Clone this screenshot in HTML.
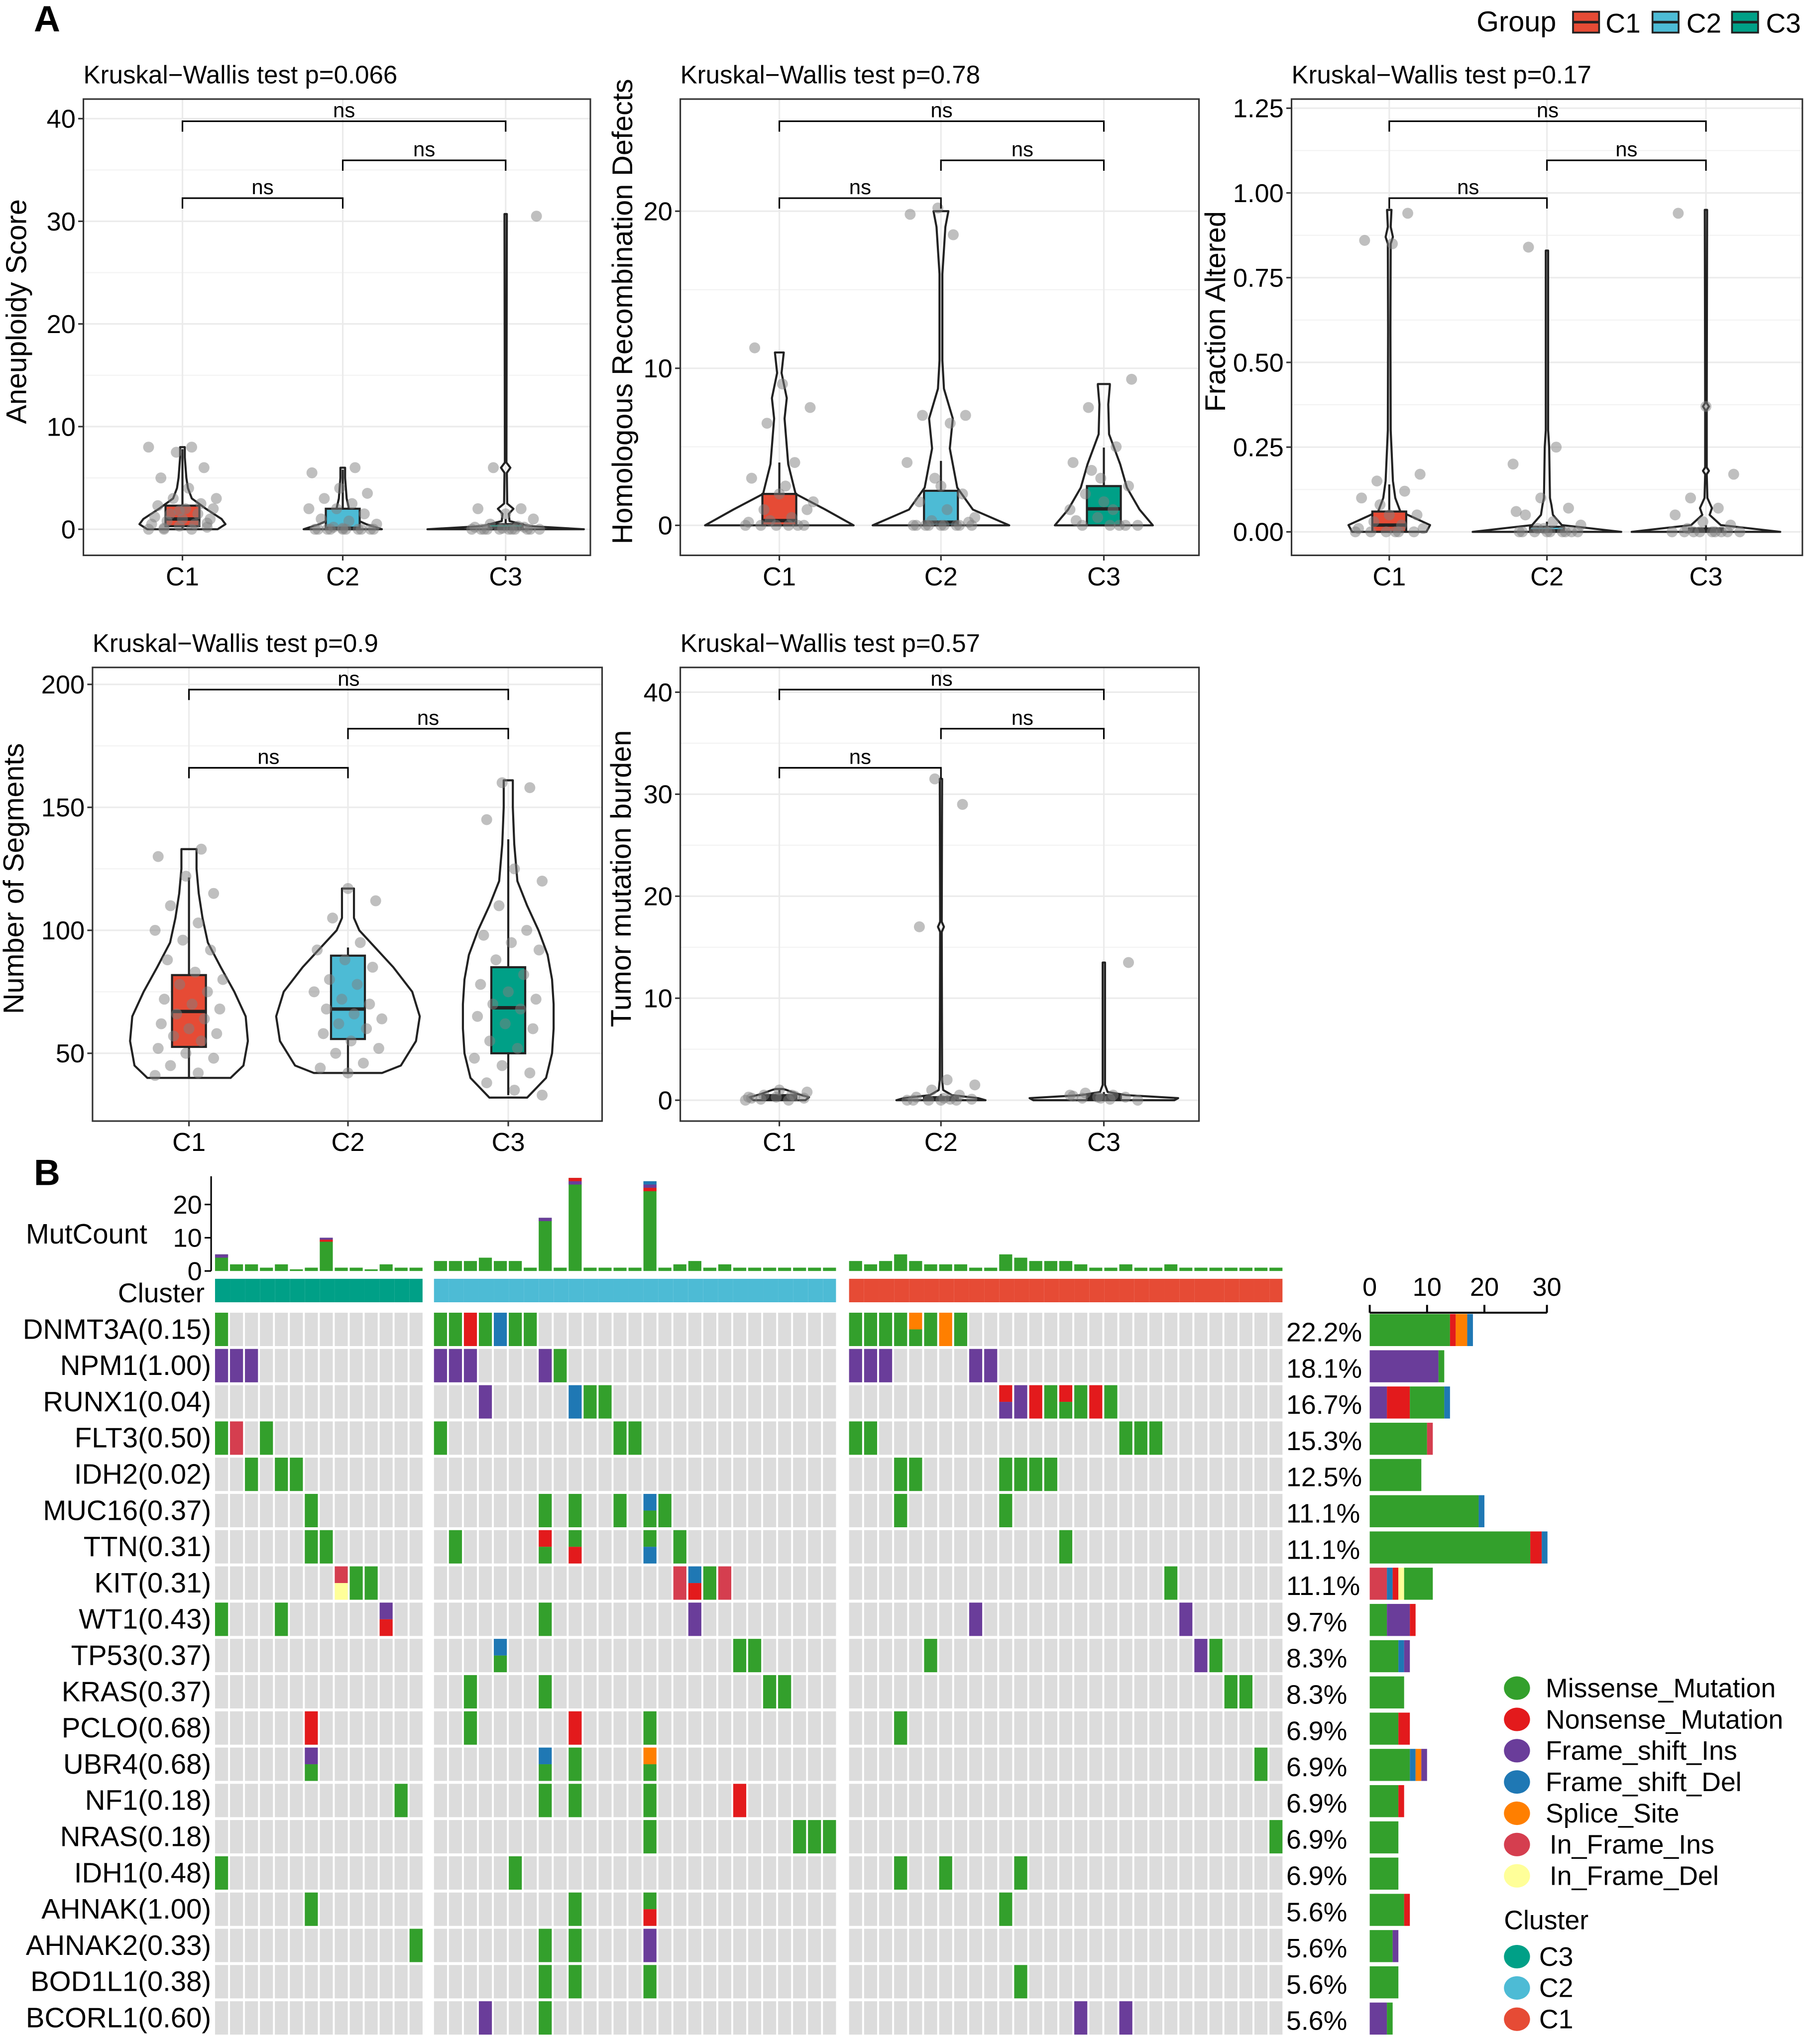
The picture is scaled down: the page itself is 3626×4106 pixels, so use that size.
<!DOCTYPE html>
<html><head><meta charset="utf-8">
<style>
html,body{margin:0;padding:0;background:#fff;}
svg{display:block;font-family:"Liberation Sans",Arial,sans-serif;}
</style></head>
<body>
<svg id="fig" xmlns="http://www.w3.org/2000/svg" width="3626" height="4106" viewBox="0 0 1385 1568" preserveAspectRatio="none">
<rect x="0" y="0" width="1385" height="1568" fill="#fff"/>
</svg>
<script>
// ---------- Panel A data ----------
const groups = ['C1','C2','C3'];
const groupColors = ['#e64b35','#4dbbd5','#00a087'];
const titles = ['Kruskal\u2212Wallis test p=0.066','Kruskal\u2212Wallis test p=0.78','Kruskal\u2212Wallis test p=0.17','Kruskal\u2212Wallis test p=0.9','Kruskal\u2212Wallis test p=0.57'];
const yLabels = ['Aneuploidy Score','Homologous Recombination Defects','Fraction Altered','Number of Segments','Tumor mutation burden'];
const tick1 = [0,10,20,30,40];
const tick2 = [0,10,20];
const tick3 = [0,0.25,0.5,0.75,1,1.25];
const tick3Labels = ['0.00','0.25','0.50','0.75','1.00','1.25'];
const tick4 = [50,100,150,200];
const tick5 = [0,10,20,30,40];
const vio1 = [
 [[0,0.45],[0.5,0.55],[1,0.5],[2,0.3],[3,0.12],[4,0.07],[5,0.05],[6,0.04],[7,0.03],[8,0.03]],
 [[0,0.5],[0.5,0.3],[1,0.15],[2,0.08],[3,0.05],[4,0.04],[5,0.03],[6,0.03]],
 [[0,1],[0.3,0.3],[0.8,0.05],[1.5,0.04],[2,0.1],[2.5,0.02],[5.5,0.015],[6,0.06],[6.5,0.01],[30.7,0.015]]];
const vio2 = [
 [[0,1],[1,0.62],[2,0.22],[3.9,0.12],[6.8,0.07],[8.1,0.1],[9.7,0.03],[11,0.06]],
 [[0,0.92],[1,0.43],[2.4,0.22],[4.9,0.12],[6.8,0.16],[8.7,0.04],[10.5,0.02],[16,0.02],[19,0.06],[20,0.1]],
 [[0,0.66],[1,0.48],[2.4,0.31],[3.9,0.22],[5.8,0.07],[7.7,0.06],[8.9,0.08],[9,0.08]]];
const vio3 = [
 [[0,0.5],[0.02,0.55],[0.04,0.35],[0.06,0.15],[0.1,0.08],[0.15,0.05],[0.3,0.02],[0.6,0.015],[0.85,0.02],[0.87,0.05],[0.9,0.02],[0.95,0.03]],
 [[0,1],[0.01,0.6],[0.02,0.2],[0.05,0.08],[0.08,0.06],[0.1,0.04],[0.25,0.03],[0.3,0.015],[0.83,0.015]],
 [[0,1],[0.01,0.6],[0.02,0.2],[0.05,0.05],[0.07,0.08],[0.1,0.02],[0.17,0.01],[0.18,0.04],[0.19,0.01],[0.36,0.01],[0.37,0.04],[0.38,0.01],[0.95,0.015]]];
const vio4 = [
 [[40,0.55],[45,0.72],[55,0.78],[65,0.75],[75,0.6],[85,0.42],[95,0.25],[105,0.18],[115,0.13],[125,0.1],[133,0.1]],
 [[42,0.45],[45,0.7],[55,0.9],[65,0.95],[75,0.85],[85,0.6],[95,0.3],[100,0.15],[105,0.08],[112,0.08],[117,0.08]],
 [[32,0.25],[40,0.5],[50,0.58],[60,0.6],[70,0.6],[80,0.58],[90,0.52],[100,0.4],[110,0.25],[120,0.12],[135,0.08],[150,0.06],[161,0.06]]];
const vio5 = [
 [[0,0.35],[0.3,0.4],[0.6,0.25],[1,0.1],[1.1,0.05]],
 [[0,0.6],[0.2,0.5],[0.5,0.15],[1,0.03],[2,0.015],[16.5,0.01],[17,0.04],[17.5,0.01],[31.5,0.015]],
 [[0,0.95],[0.2,1],[0.5,0.3],[0.8,0.05],[1.5,0.015],[13.5,0.015]]];
const box1 = [[0,0.3,1,2.3,7.8],[0,0,0.1,2,5.8],[0,0,0.1,0.5,1]];
const box2 = [[0,0,0.3,2,4],[0,0,0.2,2.2,4.1],[0,0,1.05,2.5,4.95]];
const box3 = [[0,0,0.02,0.06,0.14],[0,0,0.003,0.015,0.03],[0,0,0.003,0.01,0.02]];
const box4 = [[40,52.6,67,81.8,121.5],[42,55.8,68,89.7,93],[33,50,68.5,85,137]];
const box5 = [[0,0.1,0.3,0.5,1],[0,0,0.1,0.3,0.6],[0,0.2,0.3,0.5,0.8]];
const pts1 = [[0,0,0,0.2,0.3,0.5,0.5,0.8,1,1,1.2,1.5,1.5,2,2,2.3,2.5,3,3,4,5,6,7.5,8,8,0.1,0.6,1.8],
 [0,0,0,0,0,0,0,0,0.2,0.5,0.8,1,1.5,2,2,2.5,3,3.5,4,5.5,6,0,0,0.1],
 [0,0,0,0,0,0,0,0,0,0.1,0.2,0.3,0.5,1,1.5,2,2,6,30.5,0,0,0.2]];
const pts2 = [[0,0,0,0,0,0.2,0.5,1,1,2,3,4,6.5,7.5,9,11.3,0,0.3,1.5,2.5],
 [0,0,0,0,0,0,0,0,0.3,0.5,1,1.5,2,3,4,6.5,7,7,20.2,19.8,18.5,0,0.2,2.5],
 [0,0,0,0,0.5,1,1,2,2.5,3,4,5,7.5,9.3,1.5,0.3,0,3.5]];
const pts3 = [[0,0,0,0,0,0.01,0.02,0.03,0.05,0.05,0.1,0.12,0.15,0.17,0.85,0.86,0.94,0.08,0.01,0],
 [0,0,0,0,0,0,0,0,0.01,0.02,0.03,0.05,0.07,0.1,0.2,0.25,0.84,0,0.01,0.06],
 [0,0,0,0,0,0,0,0.01,0.02,0.03,0.05,0.07,0.1,0.17,0.37,0.94,0,0]];
const pts4 = [[41,42,45,48,50,52,55,57,58,60,62,64,66,68,70,72,75,78,80,83,88,92,96,100,103,110,115,122,130,133],
 [42,44,46,50,52,55,58,60,62,64,66,68,70,72,75,78,80,85,88,92,95,105,112,117],
 [33,35,38,42,45,48,52,55,60,62,65,68,70,72,75,78,82,88,92,95,98,100,110,120,125,145,158,160]];
const pts5 = [[0,0,0.1,0.2,0.3,0.3,0.5,0.5,0.8,1,0.2,0.4],
 [0,0,0,0,0.1,0.2,0.3,0.5,1,1.5,2,17,29,31.5,0,0.1],
 [0,0.1,0.2,0.3,0.3,0.5,0.5,0.7,13.5,0.2,0.4]];

// ---------- Panel B data ----------
const genes = ['DNMT3A(0.15)','NPM1(1.00)','RUNX1(0.04)','FLT3(0.50)','IDH2(0.02)','MUC16(0.37)','TTN(0.31)','KIT(0.31)','WT1(0.43)','TP53(0.37)','KRAS(0.37)','PCLO(0.68)','UBR4(0.68)','NF1(0.18)','NRAS(0.18)','IDH1(0.48)','AHNAK(1.00)','AHNAK2(0.33)','BOD1L1(0.38)','BCORL1(0.60)'];
const pctLabels = ['22.2%','18.1%','16.7%','15.3%','12.5%','11.1%','11.1%','11.1%','9.7%','8.3%','8.3%','6.9%','6.9%','6.9%','6.9%','6.9%','5.6%','5.6%','5.6%','5.6%'];
const clusterSizes = [14,27,29];
const clusterNames = ['C3','C2','C1'];
const mutTypes = ['M','N','I','D','S','F','L'];
const mutNames = ['Missense_Mutation','Nonsense_Mutation','Frame_shift_Ins','Frame_shift_Del','Splice_Site','In_Frame_Ins','In_Frame_Del'];
const mutColors = {M:'#33a02c',N:'#e31a1c',I:'#6a3d9a',D:'#1f78b4',S:'#ff7f00',F:'#d53e4f',L:'#ffff99'};
const onco = [
 [[0,'M'],[14,'M'],[15,'M'],[16,'N'],[17,'M'],[18,'D'],[19,'M'],[20,'M'],[41,'M'],[42,'M'],[43,'M'],[44,'M'],[45,'S','M'],[46,'M'],[47,'S'],[48,'M']],
 [[0,'I'],[1,'I'],[2,'I'],[14,'I'],[15,'I'],[16,'I'],[21,'I'],[22,'M'],[41,'I'],[42,'I'],[43,'I'],[49,'I'],[50,'I']],
 [[17,'I'],[23,'D'],[24,'M'],[25,'M'],[51,'N','I'],[52,'I'],[53,'N'],[54,'M'],[55,'N','M'],[56,'M'],[57,'N'],[58,'M']],
 [[0,'M'],[1,'F'],[3,'M'],[14,'M'],[26,'M'],[27,'M'],[41,'M'],[42,'M'],[59,'M'],[60,'M'],[61,'M']],
 [[2,'M'],[4,'M'],[5,'M'],[44,'M'],[45,'M'],[51,'M'],[52,'M'],[53,'M'],[54,'M']],
 [[6,'M'],[21,'M'],[23,'M'],[26,'M'],[28,'D','M'],[29,'M'],[44,'M'],[51,'M']],
 [[6,'M'],[7,'M'],[15,'M'],[21,'N','M'],[23,'M','N'],[28,'M','D'],[30,'M'],[55,'M']],
 [[8,'F','L'],[9,'M'],[10,'M'],[30,'F'],[31,'D','N'],[32,'M'],[33,'F'],[62,'M']],
 [[0,'M'],[4,'M'],[11,'I','N'],[21,'M'],[31,'I'],[49,'I'],[63,'I']],
 [[18,'D','M'],[34,'M'],[35,'M'],[46,'M'],[64,'I'],[65,'M']],
 [[16,'M'],[21,'M'],[36,'M'],[37,'M'],[66,'M'],[67,'M']],
 [[6,'N'],[16,'M'],[23,'N'],[28,'M'],[44,'M']],
 [[6,'I','M'],[21,'D','M'],[23,'M'],[28,'S','M'],[68,'M']],
 [[12,'M'],[21,'M'],[23,'M'],[28,'M'],[34,'N']],
 [[28,'M'],[38,'M'],[39,'M'],[40,'M'],[69,'M']],
 [[0,'M'],[19,'M'],[44,'M'],[47,'M'],[52,'M']],
 [[6,'M'],[23,'M'],[28,'M','N'],[51,'M']],
 [[13,'M'],[21,'M'],[23,'M'],[28,'I']],
 [[21,'M'],[23,'M'],[28,'M'],[52,'M']],
 [[17,'I'],[21,'M'],[56,'I'],[59,'I']]];
const geneBars = [
 [['M',14],['N',1],['S',2],['D',1]], [['I',12],['M',1]], [['I',3],['N',4],['M',6],['D',1]],
 [['M',10],['F',1]], [['M',9]], [['M',19],['D',1]], [['M',28],['N',2],['D',1]],
 [['F',3],['D',1],['N',1],['L',1],['M',5]], [['M',3],['I',4],['N',1]], [['M',5],['D',1],['I',1]],
 [['M',6]], [['M',5],['N',2]], [['M',7],['D',1],['S',1],['I',1]], [['M',5],['N',1]],
 [['M',5]], [['M',5]], [['M',6],['N',1]], [['M',4],['I',1]], [['M',5]], [['I',3],['M',1]]];
const barTicks = [0,10,20,30];
const mutCount = [5,2,2,1,2,0.5,1,10,1,1,0.5,2,1,1,
 3,3,3,4,3,3,1,16,1,28,1,1,1,1,27,1,2,3,1,2,1,1,1,1,1,1,1,
 3,2,3,5,3,2,2,2,1,1,5,4,3,3,3,2,1,1,2,1,1,2,1,1,1,1,1,1,1];
const mutTop = [[0,'I',1],[7,'I',0.6],[7,'N',0.6],[21,'I',1],[23,'N',1],[23,'I',1],[28,'D',1],[28,'I',1],[28,'N',1]];
const mutTicks = [0,10,20];

// ---------- helpers ----------
const NS='http://www.w3.org/2000/svg';
const svg=document.getElementById('fig');
function el(tag,attrs,parent){const e=document.createElementNS(NS,tag);for(const k in attrs)e.setAttribute(k,attrs[k]);(parent||svg).appendChild(e);return e;}
function txt(s,attrs,parent){const e=el('text',attrs,parent);e.textContent=s;return e;}

// ---------- Panel A ----------
const panels = [
 {x0:64,x1:453,y0:76,y1:426,cats:[140,263,388],vmin:0,vmax:40,py0:406,py1:91,ticks:tick1,tl:null,vio:vio1,box:box1,pts:pts1,maxHalf:60,lx:20,br:[93,123,152]},
 {x0:522,x1:920,y0:76,y1:426,cats:[598,722,847],vmin:0,vmax:20,py0:403,py1:162,ticks:tick2,tl:null,vio:vio2,box:box2,pts:pts2,maxHalf:57,lx:485,br:[93,123,152]},
 {x0:991,x1:1383,y0:76,y1:426,cats:[1066,1187,1309],vmin:0,vmax:1.25,py0:408,py1:83,ticks:tick3,tl:tick3Labels,vio:vio3,box:box3,pts:pts3,maxHalf:57,lx:940,br:[93,123,152]},
 {x0:71,x1:462,y0:512,y1:860,cats:[145,267,390],vmin:50,vmax:200,py0:808,py1:525,ticks:tick4,tl:null,vio:vio4,box:box4,pts:pts4,maxHalf:58,lx:18,br:[529,559,589]},
 {x0:522,x1:920,y0:512,y1:860,cats:[598,722,847],vmin:0,vmax:40,py0:844,py1:531,ticks:tick5,tl:null,vio:vio5,box:box5,pts:pts5,maxHalf:57,lx:484,br:[529,559,589]}];

panels.forEach((p,pi)=>{
 const g=el('g',{});
 
 
 const Y=v=>p.py0+(v-p.vmin)*(p.py1-p.py0)/(p.vmax-p.vmin);
 for(let i=0;i<p.ticks.length;i++){
  const y=Y(p.ticks[i]);
  el('line',{x1:p.x0,x2:p.x1,y1:y,y2:y,stroke:'#ebebeb','stroke-width':1.2},g);
  if(i<p.ticks.length-1){const ym=Y((p.ticks[i]+p.ticks[i+1])/2);el('line',{x1:p.x0,x2:p.x1,y1:ym,y2:ym,stroke:'#f2f2f2','stroke-width':0.8},g);}
 }
 p.cats.forEach(cx=>el('line',{x1:cx,x2:cx,y1:p.y0,y2:p.y1,stroke:'#ebebeb','stroke-width':1.2},g));
 for(let k=0;k<3;k++){
  const cx=p.cats[k],prof=p.vio[k];
  let d='M'+cx+' '+Y(prof[0][0]);
  prof.forEach(q=>{d+=' L'+(cx+q[1]*p.maxHalf).toFixed(1)+' '+Y(q[0]).toFixed(1);});
  for(let j=prof.length-1;j>=0;j--){d+=' L'+(cx-prof[j][1]*p.maxHalf).toFixed(1)+' '+Y(prof[j][0]).toFixed(1);}
  d+='Z';
  const v=el('path',{d:d,fill:'none',stroke:'#222','stroke-width':1.6,'stroke-linejoin':'round'},g);
  
  
  const b=p.box[k];
  el('line',{x1:cx,x2:cx,y1:Y(b[0]),y2:Y(b[4]),stroke:'#222','stroke-width':1.6},g);
  const r=el('rect',{x:cx-13,y:Y(b[3]),width:26,height:Math.max(1.5,Y(b[1])-Y(b[3])),fill:groupColors[k],stroke:'#222','stroke-width':1.6},g);
  
  
  el('line',{x1:cx-13,x2:cx+13,y1:Y(b[2]),y2:Y(b[2]),stroke:'#222','stroke-width':2.6},g);
  p.pts[k].forEach((val,i)=>{
   const off=(((i*37+k*11)%23)-11)/11*26;
   const c=el('circle',{cx:cx+off,cy:Y(val),r:4.2,fill:'#808080','fill-opacity':0.5},g);
   
   
  });
 }
 el('rect',{x:p.x0,y:p.y0,width:p.x1-p.x0,height:p.y1-p.y0,fill:'none',stroke:'#333','stroke-width':1.2},g);
 p.ticks.forEach((t,i)=>{
  const y=Y(t);
  el('line',{x1:p.x0-4,x2:p.x0,y1:y,y2:y,stroke:'#333','stroke-width':1.2},g);
  txt(p.tl?p.tl[i]:String(t),{x:p.x0-6,y:y+7,'text-anchor':'end','font-size':20,fill:'#000'},g);
 });
 p.cats.forEach((cx,k)=>{
  el('line',{x1:cx,x2:cx,y1:p.y1,y2:p.y1+4,stroke:'#333','stroke-width':1.2},g);
  txt(groups[k],{x:cx,y:p.y1+23,'text-anchor':'middle','font-size':20,fill:'#000'},g);
 });
 txt(titles[pi],{x:p.x0,y:p.y0-12,'font-size':19.5,fill:'#000'},g);
 const yl=txt(yLabels[pi],{x:0,y:0,'text-anchor':'middle','font-size':22,fill:'#000',transform:'translate('+p.lx+','+((p.y0+p.y1)/2-12)+') rotate(-90)'},g);
 
 
 const pairs=[[0,2],[1,2],[0,1]];
 pairs.forEach((pr,i)=>{
  const y=p.br[i],xa=p.cats[pr[0]],xb=p.cats[pr[1]];
  el('path',{d:'M'+xa+' '+(y+8)+' L'+xa+' '+y+' L'+xb+' '+y+' L'+xb+' '+(y+8),fill:'none',stroke:'#000','stroke-width':1.2},g);
  txt('ns',{x:(xa+xb)/2,y:y-3,'text-anchor':'middle','font-size':16,fill:'#000'},g);
 });
});

const lg=el('g',{});


txt('Group',{x:1133,y:24,'font-size':22,fill:'#000'},lg);
[[1206,1232],[1267,1294],[1328,1355]].forEach((q,k)=>{
 el('rect',{x:q[0]+1,y:9,width:20,height:16,fill:groupColors[k],stroke:'#222','stroke-width':1.4},lg);
 el('line',{x1:q[0]+1,x2:q[0]+21,y1:17,y2:17,stroke:'#222','stroke-width':2},lg);
 txt(groups[k],{x:q[1],y:25,'font-size':21,fill:'#000'},lg);
});
txt('A',{x:26,y:24,'font-size':28,'font-weight':'bold',fill:'#000'});
txt('B',{x:26,y:909,'font-size':28,'font-weight':'bold',fill:'#000'});

// ---------- Panel B ----------
const starts=[165,333,651.5],pitches=[11.48,11.48,11.52];
function colX(g){if(g<14)return starts[0]+g*pitches[0];if(g<41)return starts[1]+(g-14)*pitches[1];return starts[2]+(g-41)*pitches[2];}
const nSamples=clusterSizes.reduce((a,b)=>a+b,0);
const rowTop=1007,rowPitch=27.8,cellH=25.6,cellW=10;
const ob=el('g',{});


const mY=v=>975-v*2.55;
el('line',{x1:162,x2:162,y1:mY(28.5),y2:975,stroke:'#000','stroke-width':1.2},ob);
mutTicks.forEach(t=>{el('line',{x1:157,x2:162,y1:mY(t),y2:mY(t),stroke:'#000','stroke-width':1.2},ob);txt(String(t),{x:155,y:mY(t)+7,'text-anchor':'end','font-size':20},ob);});
txt('MutCount',{x:113,y:954,'text-anchor':'end','font-size':21.5},ob);
mutCount.forEach((v,g)=>{
 const b=el('rect',{x:colX(g),y:mY(v),width:cellW,height:v*2.55,fill:mutColors.M},ob);
 
 
});
const topAcc={};
mutTop.forEach(m=>{
 const g=m[0],acc=topAcc[g]||0;
 el('rect',{x:colX(g),y:mY(mutCount[g])+acc*2.55,width:cellW,height:m[2]*2.55,fill:mutColors[m[1]]},ob);
 topAcc[g]=acc+m[2];
});
txt('Cluster',{x:157,y:999,'text-anchor':'end','font-size':21},ob);
for(let g=0;g<nSamples;g++){
 const k=g<14?0:(g<41?1:2);
 const gw=(g===13||g===40||g===69)?cellW:pitches[k];
 el('rect',{x:colX(g),y:981,width:gw,height:18,fill:['#00a087','#4dbbd5','#e64b35'][k]},ob);
}
genes.forEach((gn,r)=>{
 const y=rowTop+r*rowPitch;
 const lab=txt(gn,{x:162,y:y+20,'text-anchor':'end','font-size':21.5},ob);
 
 
 txt(pctLabels[r],{x:987,y:y+22,'font-size':20.5},ob);
 for(let g=0;g<nSamples;g++)el('rect',{x:colX(g),y:y,width:cellW,height:cellH,fill:'#dcdcdc'},ob);
 onco[r].forEach(c=>{
  const x=colX(c[0]);
  if(c.length===2){el('rect',{x:x,y:y,width:cellW,height:cellH,fill:mutColors[c[1]]},ob);}
  else{el('rect',{x:x,y:y,width:cellW,height:cellH/2,fill:mutColors[c[1]]},ob);el('rect',{x:x,y:y+cellH/2,width:cellW,height:cellH/2,fill:mutColors[c[2]]},ob);}
 });
 let acc=0;
 geneBars[r].forEach(s=>{
  const rb=el('rect',{x:1051+acc*4.4,y:y+1,width:s[1]*4.4,height:cellH-1,fill:mutColors[s[0]]},ob);
  
  
  acc+=s[1];
 });
});
el('line',{x1:1051,x2:1187,y1:1007,y2:1007,stroke:'#000','stroke-width':1.5},ob);
barTicks.forEach(t=>{const x=1051+t*4.4*(t===30?1.03:1);el('line',{x1:x,x2:x,y1:1001,y2:1007,stroke:'#000','stroke-width':1.5},ob);txt(String(t),{x:x,y:994,'text-anchor':'middle','font-size':20},ob);});
const ml=el('g',{});


mutNames.forEach((n,i)=>{
 const y=1295+i*24;
 el('ellipse',{cx:1164,cy:y,rx:10,ry:9,fill:mutColors[mutTypes[i]]},ml);
 txt(n,{x:i>=5?1189:1186,y:y+7,'font-size':20.5},ml);
});
txt('Cluster',{x:1154,y:1480,'font-size':20.5},ml);
clusterNames.forEach((n,i)=>{
 const y=1501+i*24;
 el('ellipse',{cx:1164,cy:y,rx:10,ry:9,fill:['#00a087','#4dbbd5','#e64b35'][i]},ml);
 txt(n,{x:1181,y:y+7,'font-size':20.5},ml);
});
</script>
</body></html>
